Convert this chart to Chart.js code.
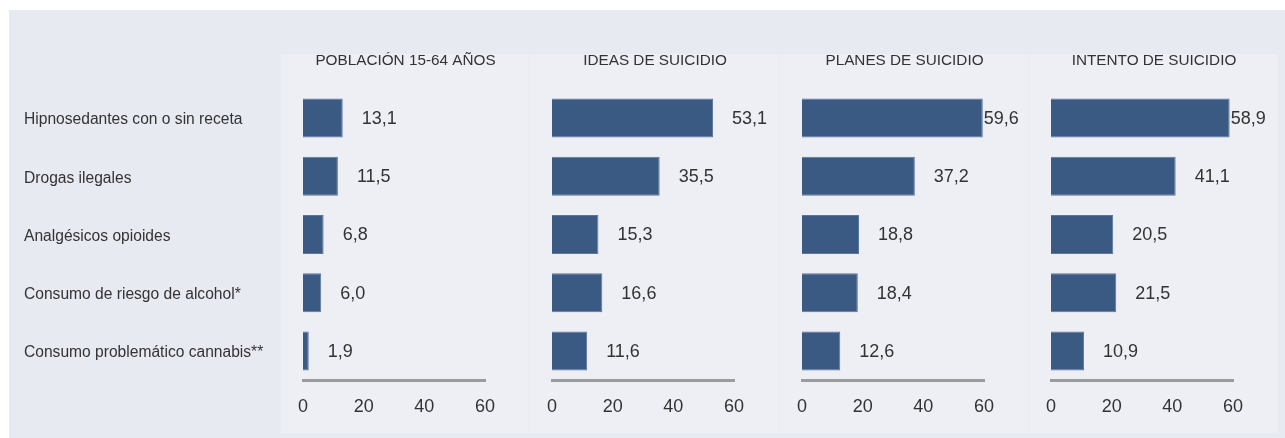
<!DOCTYPE html>
<html lang="es">
<head>
<meta charset="utf-8">
<script src="https://cdn.jsdelivr.net/npm/chart.js@4.4.1/dist/chart.umd.min.js"></script>
<style>
  html, body { margin: 0; width: 1285px; height: 438px; background: #fff; overflow: hidden; }
  #frame { position: absolute; left: 9px; top: 10px; width: 1276px; height: 428px; background: #e8eaf2; }
  .panel { position: absolute; top: 54px; height: 379px; background: #eeeff5; }
  canvas { position: absolute; top: 40px; }
</style>
</head>
<body>
<div id="frame"></div>
<div id="root"></div>
<script>
// categories (rows) and one series per panel, in %
const categories = [
  "Hipnosedantes con o sin receta",
  "Drogas ilegales",
  "Analgésicos opioides",
  "Consumo de riesgo de alcohol*",
  "Consumo problemático cannabis**"
];
const panelTitles = ["POBLACIÓN 15-64 AÑOS", "IDEAS DE SUICIDIO", "PLANES DE SUICIDIO", "INTENTO DE SUICIDIO"];
const poblacion = [13.1, 11.5, 6.8, 6.0, 1.9];
const ideas     = [53.1, 35.5, 15.3, 16.6, 11.6];
const planes    = [59.6, 37.2, 18.8, 18.4, 12.6];
const intento   = [58.9, 41.1, 20.5, 21.5, 10.9];
const xTicks    = [0, 20, 40, 60];

const series = [poblacion, ideas, planes, intento];

const FONT = "'Liberation Sans', Arial, sans-serif";
const TEXT = "#333333";
const BAR = "#3b5a83";
const PANEL_LEFT = [281, 530, 780, 1029];
const PANEL_RIGHT = 1279;
const LABEL_LEFT = 9;      // left edge of the row-label column (chart 1 only)
const PLOT_W = 182;        // pixels spent on 0..60
const PLOT_INSET = 22;     // panel edge -> zero line

const fmt = (v) => v.toFixed(1).replace(".", ",");

// panel title, centred on the panel (the right-most part of each canvas)
const panelTitle = {
  id: "panelTitle",
  afterDraw(chart, args, opts) {
    const ctx = chart.ctx;
    ctx.save();
    ctx.font = "15.3px " + FONT;
    ctx.fillStyle = TEXT;
    ctx.textAlign = "center";
    ctx.textBaseline = "middle";
    ctx.fillText(opts.text, chart.width - opts.panelWidth / 2, 21);
    ctx.restore();
  }
};

// value at the end of each bar; pulled in tight when it would run off the panel
const valueLabels = {
  id: "valueLabels",
  afterDatasetsDraw(chart) {
    const ctx = chart.ctx;
    const ds = chart.data.datasets[0];
    ctx.save();
    ctx.font = "18px " + FONT;
    ctx.fillStyle = TEXT;
    ctx.textAlign = "left";
    ctx.textBaseline = "middle";
    chart.getDatasetMeta(0).data.forEach((bar, i) => {
      const txt = fmt(ds.data[i]);
      const w = ctx.measureText(txt).width;
      let x = bar.x + 19;
      if (x + w > chart.width - 4) x = bar.x + 1;
      ctx.fillText(txt, x, bar.y + 1);
    });
    ctx.restore();
  }
};

const root = document.getElementById("root");

series.forEach((values, i) => {
  const panelRight = i < 3 ? PANEL_LEFT[i + 1] : PANEL_RIGHT;
  const panelWidth = panelRight - PANEL_LEFT[i];

  const panel = document.createElement("div");
  panel.className = "panel";
  panel.style.left = PANEL_LEFT[i] + "px";
  panel.style.width = (panelWidth - 1) + "px";
  root.appendChild(panel);

  const first = i === 0;
  const canvasLeft = first ? LABEL_LEFT : PANEL_LEFT[i];
  const canvasWidth = panelRight - canvasLeft;
  const plotLeft = PANEL_LEFT[i] + PLOT_INSET - canvasLeft;

  const canvas = document.createElement("canvas");
  canvas.width = canvasWidth;
  canvas.height = 398;
  canvas.style.left = canvasLeft + "px";
  canvas.style.width = canvasWidth + "px";
  canvas.style.height = "398px";
  root.appendChild(canvas);

  new Chart(canvas, {
    type: "bar",
    data: {
      labels: categories,
      datasets: [{
        data: values,
        backgroundColor: BAR,
        borderColor: "#5a76a0",
        borderWidth: 1,
        categoryPercentage: 1,
        barPercentage: 0.67
      }]
    },
    options: {
      indexAxis: "y",
      responsive: false,
      animation: false,
      layout: {
        padding: {
          top: 49,
          bottom: 0,
          left: first ? 15 : plotLeft,
          right: canvasWidth - plotLeft - PLOT_W
        }
      },
      scales: {
        x: {
          min: 0,
          max: 60,
          afterFit: (s) => { s.height = 58; },
          afterBuildTicks: (s) => { s.ticks = xTicks.map((v) => ({ value: v })); },
          grid: { display: false, drawTicks: false },
          border: { display: true, color: "#9c9c9c", width: 3 },
          ticks: { color: TEXT, font: { family: FONT, size: 18 }, padding: 16, maxRotation: 0 }
        },
        y: {
          display: first,
          afterFit: (s) => { if (first) s.width = plotLeft - 15; },
          grid: { display: false, drawTicks: false },
          border: { display: false },
          ticks: { crossAlign: "far", padding: 0, labelOffset: 2, color: TEXT, font: { family: FONT, size: 15.6 } }
        }
      },
      plugins: {
        legend: { display: false },
        tooltip: { enabled: false },
        panelTitle: { text: panelTitles[i], panelWidth: panelWidth }
      }
    },
    plugins: [panelTitle, valueLabels]
  });
});
</script>
</body>
</html>
